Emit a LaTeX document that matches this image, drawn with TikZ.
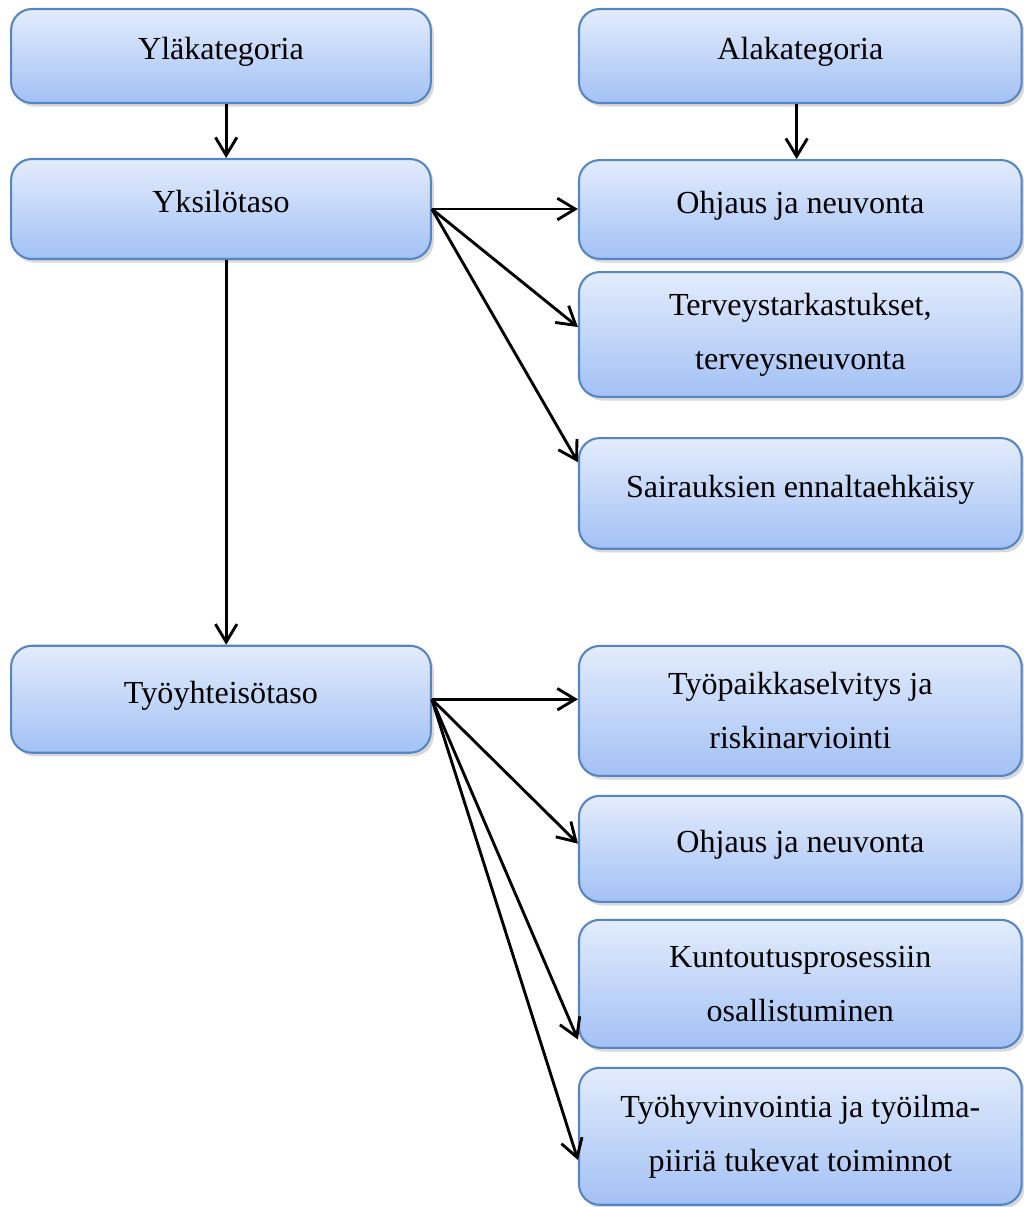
\documentclass[tikz,border=0pt]{standalone}
\usepackage{fontspec}
\setmainfont{Liberation Serif}
\usepackage{tikz}
\usetikzlibrary{positioning,calc,shadows,arrows.meta}
\usepackage{xcolor}
\definecolor{boxtop}{RGB}{227,236,252}
\definecolor{boxbot}{RGB}{163,193,245}
\definecolor{boxline}{RGB}{86,133,196}
\tikzset{
  box/.style={rectangle,rounded corners=2.8mm,draw=boxline,line width=0.8pt,
    top color=boxtop,bottom color=boxbot,minimum width=59.6mm,align=center,
    font=\fontsize{12.3}{20.7}\selectfont,
    drop shadow={shadow xshift=0.4mm,shadow yshift=-0.5mm,opacity=0.3}},
  leftbox/.style={box,minimum width=56.5mm},
  oneline/.style={text height=9pt,text depth=6pt}
}

\begin{document}
\begin{tikzpicture}[node distance=20.6mm,on grid,auto,>={Straight Barb[length=2.4mm,width=2.9mm]},line width=1.1pt]
\useasboundingbox (0,0) rectangle (137.8mm,-162.5mm);
% left column
\node[leftbox,oneline,minimum height=12.65mm](q_yla) at (29.75mm,-7.54mm){Yläkategoria};
\node[leftbox,oneline,minimum height=13.46mm](q_yks)[below=of q_yla]{Yksilötaso};
\node[leftbox,oneline,minimum height=14.4mm](q_tyoy)[below=66mm of q_yks]{Työyhteisötaso};
% right column
\node[box,oneline,minimum height=12.65mm](q_ala)[right=78mm of q_yla]{Alakategoria};
\node[box,oneline,minimum height=13.3mm](q_ohj1)[below=20.66mm of q_ala]{Ohjaus ja neuvonta};
\node[box,minimum height=16.8mm](q_terv)[below=16.83mm of q_ohj1]{Terveystarkastukset,\\terveysneuvonta};
\node[box,oneline,minimum height=14.9mm](q_sair)[below=21.4mm of q_terv]{Sairauksien ennaltaehkäisy};
\node[box,minimum height=17.5mm](q_tpk)[below=29.28mm of q_sair]{Työpaikkaselvitys ja\\riskinarviointi};
\node[box,oneline,minimum height=14.27mm](q_ohj2)[below=18.57mm of q_tpk]{Ohjaus ja neuvonta};
\node[box,minimum height=17.23mm](q_kunt)[below=18.17mm of q_ohj2]{Kuntoutusprosessiin\\osallistuminen};
\node[box,minimum height=18.44mm](q_hyv)[below=20.53mm of q_kunt]{Työhyvinvointia ja työilma-\\piiriä tukevat toiminnot};
% arrows
\draw[->] ([xshift=0.7mm]q_yla.south) -- ([xshift=0.7mm]q_yks.north);
\draw[->] ([xshift=-0.5mm]q_ala.south) -- ([xshift=-0.5mm]q_ohj1.north);
\draw[->] ([xshift=0.7mm]q_yks.south) -- ([xshift=0.7mm]q_tyoy.north);
\draw[->] (q_yks.east) -- (q_yks.east -| q_ohj1.west);
\draw[->] (q_yks.east) -- ([yshift=1mm]q_terv.west);
\draw[->] (q_yks.east) -- ([yshift=4.2mm]q_sair.west);
\draw[->] (q_tyoy.east) -- (q_tyoy.east -| q_tpk.west);
\draw[->] (q_tyoy.east) -- ([yshift=0.7mm]q_ohj2.west);
\draw[->] (q_tyoy.east) -- ([yshift=-7.5mm]q_kunt.west);
\draw[->] (q_tyoy.east) -- ([yshift=-3.2mm]q_hyv.west);
\end{tikzpicture}
\end{document}
